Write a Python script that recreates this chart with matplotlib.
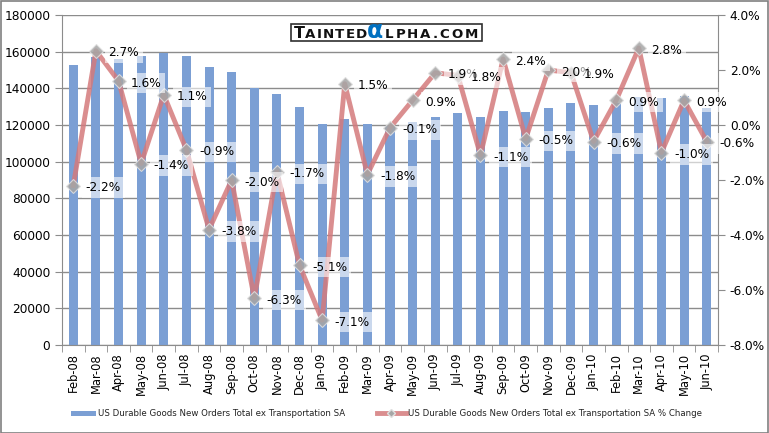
import matplotlib
matplotlib.use("Agg")
import matplotlib.pyplot as plt
import numpy as np

months = ["Feb-08","Mar-08","Apr-08","May-08","Jun-08","Jul-08","Aug-08","Sep-08","Oct-08","Nov-08","Dec-08",
          "Jan-09","Feb-09","Mar-09","Apr-09","May-09","Jun-09","Jul-09","Aug-09","Sep-09","Oct-09","Nov-09","Dec-09",
          "Jan-10","Feb-10","Mar-10","Apr-10","May-10","Jun-10"]
orders = [152700, 157100, 156000, 157500, 159200, 157500, 151600, 148900, 140200, 137000, 129800,
          120500, 123300, 120500, 119500, 121500, 124400, 126500, 124400, 127600, 127100, 129300, 132000,
          130900, 132000, 135000, 134700, 135800, 129000]
pct = [-2.2, 2.7, 1.6, -1.4, 1.1, -0.9, -3.8, -2.0, -6.3, -1.7, -5.1,
       -7.1, 1.5, -1.8, -0.1, 0.9, 1.9, 1.8, -1.1, 2.4, -0.5, 2.0, 1.9,
       -0.6, 0.9, 2.8, -1.0, 0.9, -0.6]
series_names = ["US Durable Goods New Orders Total ex Transportation SA",
                "US Durable Goods New Orders Total ex Transportation SA % Change"]

W, H = 769, 433
fig = plt.figure(figsize=(W/100, H/100), dpi=100)
fig.patch.set_facecolor("white")
renderer = fig.canvas.get_renderer()
fig.add_artist(plt.Rectangle((0.5/W, 0.5/H), 1-1.5/W, 1-1.5/H, transform=fig.transFigure,
                             fill=False, edgecolor="#808080", linewidth=1.2))

BAR_C = "#7b9fd4"
LINE_C = "#d47a7c"

L, R, T, B = 62, 718, 15, 345
ax = fig.add_axes([L/W, 1-B/H, (R-L)/W, (B-T)/H])
x = np.arange(len(months))
ax.bar(x, orders, width=0.4, color=BAR_C, zorder=2)
ax.set_xlim(-0.5, len(months)-0.5)
ax.set_ylim(0, 180000)
ax.set_yticks(np.arange(0, 180001, 20000))
ax.yaxis.grid(True, color="#8c8c8c", linewidth=1)
ax.set_axisbelow(True)
for s in ["top", "right"]:
    ax.spines[s].set_visible(False)
for s in ["left", "bottom"]:
    ax.spines[s].set_color("#8c8c8c")
ax.set_xticks(x)
ax.set_xticklabels(months, rotation=90, fontsize=8.3)
ax.set_xticks(np.arange(-0.5, len(months), 1), minor=True)
ax.tick_params(axis="x", which="major", length=0, pad=6)
ax.tick_params(axis="x", which="minor", length=5, color="#8c8c8c")
ax.tick_params(axis="y", labelsize=8.7, length=5, color="#8c8c8c")

ax2 = ax.twinx()
ax2.set_ylim(-8, 4)
ax2.set_yticks(np.arange(-8, 4.01, 2))
ax2.set_yticklabels([f"{v:.1f}%" for v in np.arange(-8, 4.01, 2)])
ax2.tick_params(axis="y", labelsize=8.7, length=5, color="#8c8c8c")
for s in ["top", "left", "bottom"]:
    ax2.spines[s].set_visible(False)
ax2.spines["right"].set_color("#8c8c8c")
ax2.plot(x, pct, color=LINE_C, alpha=0.85, linewidth=3.5, zorder=3,
         marker="D", markersize=7, markerfacecolor="#a6a6a6", markeredgecolor="#e0e0e0",
         markeredgewidth=0.8)
for xi, v in zip(x, pct):
    ax2.annotate(f"{v:.1f}%", (xi, v), xytext=(9, -1.5), textcoords="offset points",
                 fontsize=8.7, va="center", ha="left", zorder=4,
                 bbox=dict(boxstyle="square,pad=0.3", facecolor="white", edgecolor="none", alpha=0.6))

# logo
fig.add_artist(plt.Rectangle((291/W, 1-40.5/H), (482-291)/W, 17/H, transform=fig.transFigure,
                             facecolor="white", edgecolor="#303030", linewidth=1.2, zorder=10))

def place_segment(txt, x0, x1, fs, col, base):
    ts, widths = [], []
    for ch in txt:
        t = fig.text(0, 1-base/H, ch, fontsize=fs, color=col, family="DejaVu Sans",
                     va="baseline", ha="left", zorder=11, fontweight="bold")
        widths.append(t.get_window_extent(renderer).width)
        ts.append(t)
    total = sum(widths)
    gap = (x1 - x0 - total) / max(len(txt) - 1, 1) if len(txt) > 1 else 0
    xp = x0
    for t, w in zip(ts, widths):
        t.set_x(xp / W)
        xp += w + gap

place_segment("T", 294, 303, 11.5, "#111111", 38.5)
place_segment("AINTED", 305, 367, 9.6, "#111111", 38.5)
fig.text(367/W, 1-38.5/H, "α", fontsize=17, color="#0070c0", family="DejaVu Sans",
         va="baseline", ha="left", zorder=11, fontweight="bold")
place_segment("LPHA.COM", 385, 478, 9.6, "#111111", 38.5)

# legend
ly = 1-413/H

def fit_text(x0, width, s):
    t = fig.text(x0/W, ly, s, fontsize=7, va="center", ha="left",
                 family=["Liberation Sans Narrow", "DejaVu Sans"], color="#222222")
    w = t.get_window_extent(renderer).width
    t.set_fontsize(7 * width / w)
    return t

fig.add_artist(plt.Rectangle((71/W, ly-2.5/H), 25/W, 5/H, transform=fig.transFigure,
                             facecolor=BAR_C, edgecolor="none"))
fit_text(98, 250, series_names[0])
fig.add_artist(plt.Line2D([377/W, 406/W], [ly, ly], transform=fig.transFigure,
                          color=LINE_C, linewidth=3.5, alpha=0.85))
fig.add_artist(plt.Line2D([391.5/W], [ly], transform=fig.transFigure, marker="D", markersize=4,
                          markerfacecolor="#a6a6a6", markeredgecolor="#e0e0e0", linestyle="none"))
fit_text(408, 295, series_names[1])

fig.savefig("out.png", dpi=100)
